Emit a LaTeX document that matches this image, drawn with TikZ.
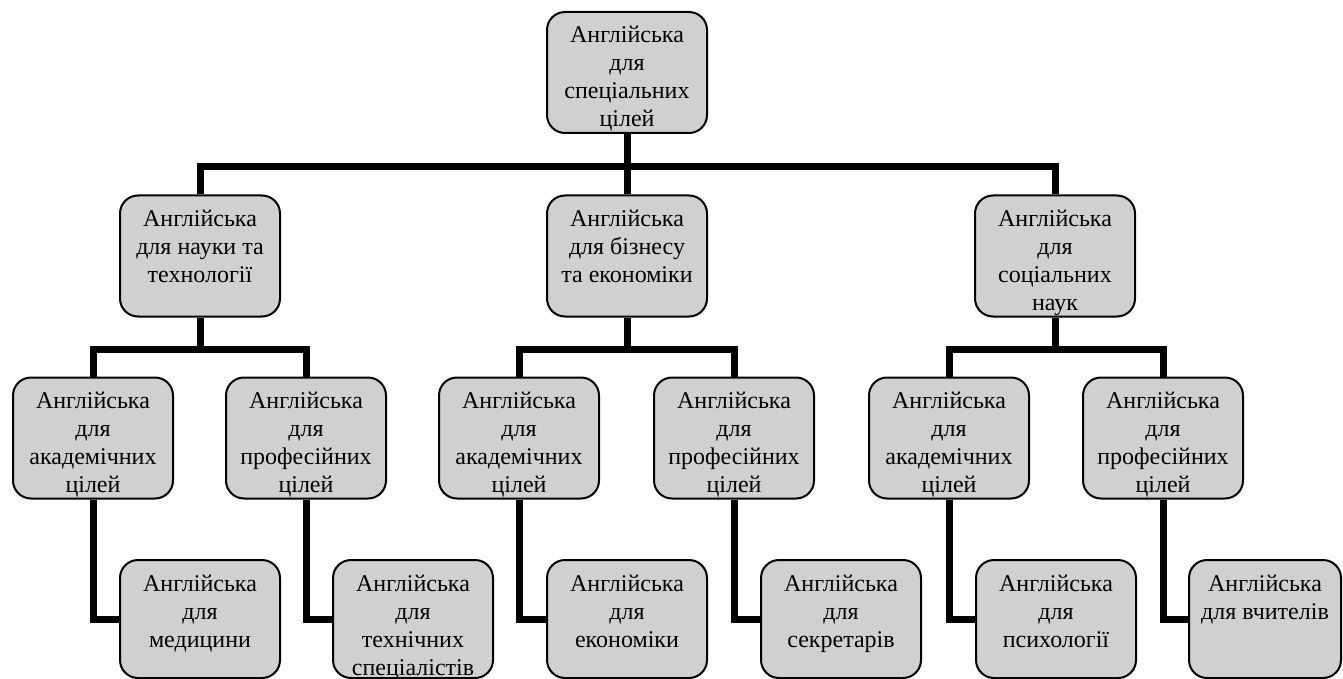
\documentclass[tikz,border=0pt]{standalone}
\usepackage{fontspec}
\setmainfont{Liberation Serif}
\usetikzlibrary{backgrounds}
\definecolor{boxgray}{RGB}{208,208,208}
\newcommand\bt[2][121pt]{\fontsize{24}{28}\selectfont\parbox[t][#1][t]{150pt}{\centering\fontsize{24}{28}\selectfont\rule{0pt}{31pt}#2}}
\tikzset{
  box/.style={draw=black, line width=2pt, fill=boxgray, rounded corners=18pt, inner sep=0pt, minimum width=160pt},
  lastbox/.style={box, minimum width=152pt},
  conn/.style={draw=black, line width=7pt}
}
\begin{document}
\begin{tikzpicture}
\useasboundingbox (0pt,0pt) rectangle (1343pt,-679pt);
% level 1
\node[box] (top) at (627pt,-72.5pt) {\bt{Англійська\\для\\спеціальних\\цілей}};
% level 2
\node[box] (l2a) at (200pt,-256pt) {\bt{Англійська\\для науки та\\технології}};
\node[box] (l2b) at (627pt,-256pt) {\bt{Англійська\\для бізнесу\\та економіки}};
\node[box] (l2c) at (1055pt,-256pt) {\bt{Англійська\\для\\соціальних\\наук}};
% level 3
\node[box] (l3a) at (93pt,-438pt) {\bt{Англійська\\для\\академічних\\цілей}};
\node[box] (l3b) at (306pt,-438pt) {\bt{Англійська\\для\\професійних\\цілей}};
\node[box] (l3c) at (519pt,-438pt) {\bt{Англійська\\для\\академічних\\цілей}};
\node[box] (l3d) at (734pt,-438pt) {\bt{Англійська\\для\\професійних\\цілей}};
\node[box] (l3e) at (949pt,-438pt) {\bt{Англійська\\для\\академічних\\цілей}};
\node[box] (l3f) at (1163pt,-438pt) {\bt{Англійська\\для\\професійних\\цілей}};
% level 4
\node[box] (l4a) at (200pt,-619pt) {\bt[118pt]{Англійська\\для\\медицини}};
\node[box] (l4b) at (413pt,-619pt) {\bt[118pt]{Англійська\\для\\технічних\\спеціалістів}};
\node[box] (l4c) at (627pt,-619pt) {\bt[118pt]{Англійська\\для\\економіки}};
\node[box] (l4d) at (841pt,-619pt) {\bt[118pt]{Англійська\\для\\секретарів}};
\node[box] (l4e) at (1056pt,-619pt) {\bt[118pt]{Англійська\\для\\психології}};
\node[lastbox] (l4f) at (1265pt,-619pt) {\bt[118pt]{Англійська\\для вчителів}};
\begin{scope}[on background layer]
\draw[conn] (l2a.north) -- ++(0,28pt) -| (top.south);
\draw[conn] (l2b.north) -- (top.south);
\draw[conn] (l2c.north) -- ++(0,28pt) -| (top.south);
\draw[conn] (l3a.north) -- ++(0,27pt) -| (l2a.south);
\draw[conn] (l3b.north) -- ++(0,27pt) -| (l2a.south);
\draw[conn] (l3c.north) -- ++(0,27pt) -| (l2b.south);
\draw[conn] (l3d.north) -- ++(0,27pt) -| (l2b.south);
\draw[conn] (l3e.north) -- ++(0,27pt) -| (l2c.south);
\draw[conn] (l3f.north) -- ++(0,27pt) -| (l2c.south);
\draw[conn] (l3a.south) |- (l4a.west);
\draw[conn] (l3b.south) |- (l4b.west);
\draw[conn] (l3c.south) |- (l4c.west);
\draw[conn] (l3d.south) |- (l4d.west);
\draw[conn] (l3e.south) |- (l4e.west);
\draw[conn] (l3f.south) |- (l4f.west);
\end{scope}
\end{tikzpicture}
\end{document}
